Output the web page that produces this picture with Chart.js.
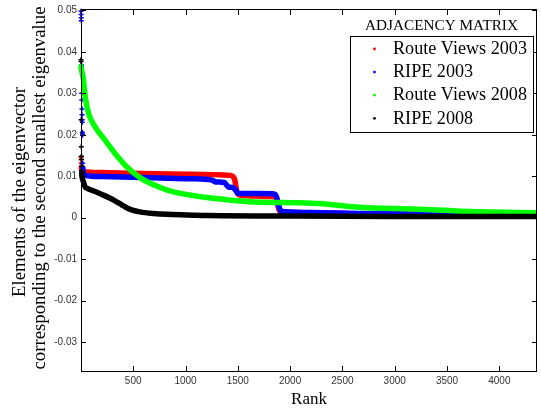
<!DOCTYPE html>
<html>
<head>
<meta charset="utf-8">
<script src="https://cdn.jsdelivr.net/npm/chart.js@4/dist/chart.umd.min.js"></script>
<style>
  html, body { margin: 0; padding: 0; background: #fff; }
  #wrap { width: 541px; height: 412px; position: relative; }
</style>
</head>
<body>
<div id="wrap"><canvas id="c" width="541" height="412"></canvas></div>
<script>
// ---- data ----
const seriesLabels = ['Route Views 2003', 'RIPE 2003', 'Route Views 2008', 'RIPE 2008'];
const seriesColors = ['#ff0000', '#0000ff', '#00ff00', '#000000'];
const legendTitle = 'ADJACENCY MATRIX';
const xTicks = [500, 1000, 1500, 2000, 2500, 3000, 3500, 4000];
const yTicks = [-0.03, -0.02, -0.01, 0, 0.01, 0.02, 0.03, 0.04, 0.05];

// Route Views 2003 (first 5 are isolated markers)
const rv03Head = 5;
const rv03Rank = [1, 2, 3, 4, 5, 8, 30, 200, 580, 1000, 1430, 1455, 1470, 1480, 1490, 1500, 1525, 1600, 1800, 1860, 1872, 1884, 1896, 1915, 1960, 2300, 2700, 3300, 3840];
const rv03Val  = [0.0146, 0.0140, 0.0131, 0.0124, 0.0120, 0.0115, 0.0111, 0.0109, 0.01065, 0.0105, 0.0102, 0.0099, 0.0092, 0.0078, 0.0064, 0.0057, 0.0054, 0.0053, 0.0051, 0.0050, 0.0042, 0.0028, 0.0018, 0.0014, 0.0013, 0.0011, 0.0009, 0.0008, 0.0007];

// RIPE 2003
const ripe03Head = 18;
const ripe03Rank = [1, 2, 3, 4, 5, 6, 7, 8, 9, 10, 11, 12, 13, 14, 15, 16, 17, 18, 20, 40, 200, 580, 1000, 1214, 1260, 1290, 1370, 1395, 1410, 1450, 1480, 1500, 1700, 1848, 1870, 1890, 1910, 1950, 2300, 2650, 3300, 3845];
const ripe03Val  = [0.0498, 0.0490, 0.0482, 0.0475, 0.0369, 0.0365, 0.0362, 0.0300, 0.0284, 0.0262, 0.0248, 0.0236, 0.0230, 0.0206, 0.0202, 0.0199, 0.0131, 0.0120, 0.0112, 0.0102, 0.0099, 0.0097, 0.0094, 0.0092, 0.0090, 0.0086, 0.0085, 0.0078, 0.0074, 0.0073, 0.0066, 0.0059, 0.0058, 0.0057, 0.0050, 0.0030, 0.0017, 0.0014, 0.0012, 0.0010, 0.0009, 0.0008];

// Route Views 2008
const rv08Head = 0;
const rv08Rank = [1, 5, 15, 25, 41, 73, 136, 231, 326, 453, 580, 707, 833, 1055, 1372, 1658, 2086, 2276, 2562, 2752, 3000, 3353, 3830, 4360];
const rv08Val  = [0.0365, 0.0358, 0.0345, 0.0332, 0.0292, 0.0252, 0.0219, 0.0187, 0.0155, 0.0119, 0.0094, 0.0078, 0.0066, 0.0054, 0.0044, 0.0038, 0.0036, 0.0034, 0.0027, 0.0024, 0.0022, 0.0019, 0.0014, 0.0012];

// RIPE 2008
const ripe08Head = 8;
const ripe08Rank = [1, 2, 3, 4, 5, 6, 7, 8, 10, 20, 41, 57, 136, 200, 270, 330, 390, 437, 485, 564, 700, 833, 1068, 1214, 1860, 3000, 4360];
const ripe08Val  = [0.0381, 0.0377, 0.0236, 0.0171, 0.0148, 0.0140, 0.0124, 0.0110, 0.0100, 0.0090, 0.0074, 0.0071, 0.0063, 0.0056, 0.0048, 0.0040, 0.0031, 0.0024, 0.0019, 0.0014, 0.0010, 0.0008, 0.0006, 0.0005, 0.0004, 0.0003, 0.0003];

const ranks = [rv03Rank, ripe03Rank, rv08Rank, ripe08Rank];
const vals = [rv03Val, ripe03Val, rv08Val, ripe08Val];
const heads = [rv03Head, ripe03Head, rv08Head, ripe08Head];
const drawOrder = [4, 3, 2, 1]; // black on top, red at the bottom

const datasets = seriesLabels.map((lab, i) => {
  const h = heads[i];
  const col = seriesColors[i];
  return {
    label: lab,
    data: ranks[i].map((r, k) => ({ x: r, y: vals[i][k] })),
    borderColor: col,
    backgroundColor: col,
    borderWidth: 5.5,
    borderCapStyle: 'round',
    borderJoinStyle: 'round',
    cubicInterpolationMode: 'monotone',
    order: drawOrder[i],
    clip: { left: 4, top: 4, right: 0, bottom: 0 },
    pointStyle: 'cross',
    pointRadius: ctx => (ctx.dataIndex < h ? 2.5 : 0),
    pointBorderWidth: 1.5,
    pointBorderColor: col,
    pointHoverRadius: 0,
    segment: {
      borderColor: ctx => (ctx.p1DataIndex < h ? 'rgba(0,0,0,0)' : col)
    }
  };
});

const serif = '"Liberation Serif", "Times New Roman", serif';

function fitSize(ctx, text, family, width, weight) {
  ctx.font = (weight || '') + ' 100px ' + family;
  return 100 * width / ctx.measureText(text).width;
}

const decor = {
  id: 'decor',
  afterDatasetsDraw(chart) {
    const ctx = chart.ctx;
    const a = chart.chartArea;
    const xs = chart.scales.x, ys = chart.scales.y;
    ctx.save();
    ctx.strokeStyle = '#000';
    ctx.lineWidth = 1;
    // frame
    ctx.strokeRect(Math.round(a.left) + 0.5, Math.round(a.top) - 0.5, Math.round(a.right - a.left) - 1, Math.round(a.bottom - a.top) + 1);
    // inward ticks
    ctx.beginPath();
    xTicks.forEach(v => {
      const px = Math.round(xs.getPixelForValue(v)) + 0.5;
      ctx.moveTo(px, a.bottom); ctx.lineTo(px, a.bottom - 5);
      ctx.moveTo(px, a.top); ctx.lineTo(px, a.top + 5);
    });
    yTicks.forEach(v => {
      const py = Math.round(ys.getPixelForValue(v)) + 0.5;
      ctx.moveTo(a.left, py); ctx.lineTo(a.left + 5, py);
      ctx.moveTo(a.right, py); ctx.lineTo(a.right - 5, py);
    });
    ctx.stroke();
    ctx.restore();
  },
  afterDraw(chart) {
    const ctx = chart.ctx;
    const a = chart.chartArea;
    ctx.save();
    ctx.fillStyle = '#000';
    // y axis title (two lines)
    const l1 = 'Elements of the eigenvector';
    const l2 = 'corresponding to the second smallest eigenvalue';
    const ys = fitSize(ctx, l2, serif, 363);
    ctx.font = ys.toFixed(2) + 'px ' + serif;
    ctx.textAlign = 'center';
    ctx.textBaseline = 'alphabetic';
    ctx.save(); ctx.translate(25, 192); ctx.rotate(-Math.PI / 2); ctx.fillText(l1, 0, 0); ctx.restore();
    ctx.save(); ctx.translate(44.5, 188); ctx.rotate(-Math.PI / 2); ctx.fillText(l2, 0, 0); ctx.restore();
    // x axis title
    const xsz = fitSize(ctx, 'Rank', serif, 36);
    ctx.font = xsz.toFixed(2) + 'px ' + serif;
    ctx.fillText('Rank', (a.left + a.right) / 2, 404);

    // legend
    const tsz = fitSize(ctx, legendTitle, serif, 153);
    ctx.font = tsz.toFixed(2) + 'px ' + serif;
    ctx.textBaseline = 'middle';
    ctx.fillText(legendTitle, 441.5, 25.5);
    ctx.fillStyle = '#fff';
    ctx.fillRect(350, 36, 183, 97);
    ctx.strokeStyle = '#000';
    ctx.lineWidth = 1;
    ctx.strokeRect(350.5, 36.5, 183, 96);
    const esz = fitSize(ctx, seriesLabels[0], serif, 134);
    ctx.font = esz.toFixed(2) + 'px ' + serif;
    ctx.textAlign = 'left';
    seriesLabels.forEach((lab, i) => {
      const y = 49 + i * 23.1;
      ctx.fillStyle = seriesColors[i];
      ctx.beginPath(); ctx.arc(374.5, y, 1.4, 0, Math.PI * 2); ctx.fill();
      ctx.fillStyle = '#000';
      ctx.fillText(lab, 393, y + 0.5);
    });
    ctx.restore();
  }
};

new Chart(document.getElementById('c'), {
  type: 'line',
  data: { datasets },
  options: {
    responsive: false,
    animation: false,
    events: [],
    layout: { padding: { left: 0, right: 2, top: 10, bottom: 0 } },
    plugins: { legend: { display: false }, tooltip: { enabled: false }, title: { display: false } },
    scales: {
      x: {
        type: 'linear',
        min: 1,
        max: 4360,
        afterBuildTicks: s => { s.ticks = xTicks.map(v => ({ value: v })); },
        afterFit: s => { s.height = 41; },
        grid: { display: false, drawTicks: false },
        border: { display: false },
        ticks: {
          padding: 4,
          autoSkip: false,
          maxRotation: 0,
          color: '#333',
          font: { family: '"Liberation Sans", Arial, sans-serif', size: 10 },
          callback: v => String(v)
        }
      },
      y: {
        type: 'linear',
        min: -0.037,
        max: 0.0501,
        afterBuildTicks: s => { s.ticks = yTicks.map(v => ({ value: v })); },
        afterFit: s => { s.width = 81; },
        grid: { display: false, drawTicks: false },
        border: { display: false },
        ticks: {
          padding: 4,
          autoSkip: false,
          color: '#333',
          font: { family: '"Liberation Sans", Arial, sans-serif', size: 10 },
          callback: v => String(Math.round(v * 100) / 100)
        }
      }
    }
  },
  plugins: [decor]
});
</script>
</body>
</html>
